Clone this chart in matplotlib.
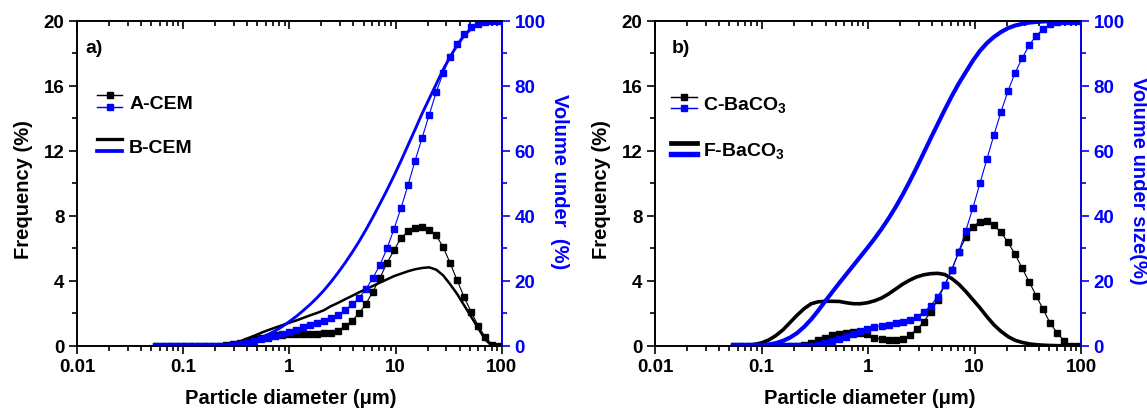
import matplotlib
matplotlib.use('Agg')
import matplotlib.pyplot as plt
from matplotlib.lines import Line2D
from matplotlib.legend_handler import HandlerBase
from matplotlib.ticker import MultipleLocator, LogLocator, NullFormatter

plt.rcParams['font.family'] = ['Liberation Sans', 'DejaVu Sans']
plt.rcParams['font.weight'] = 'bold'
plt.rcParams['axes.labelweight'] = 'bold'
plt.rcParams['mathtext.fontset'] = 'custom'
plt.rcParams['mathtext.rm'] = 'Liberation Sans:bold'
plt.rcParams['mathtext.it'] = 'Liberation Sans:bold'
plt.rcParams['mathtext.bf'] = 'Liberation Sans:bold'
plt.rcParams['mathtext.default'] = 'rm'

# particle size classes (um)
sizes = [0.0550, 0.0640, 0.0745, 0.0868, 0.1010, 0.1176, 0.1369, 0.1594, 0.1855, 0.2160,
         0.2514, 0.2927, 0.3407, 0.3966, 0.4618, 0.5376, 0.6258, 0.7285, 0.8481, 0.9872,
         1.149, 1.338, 1.557, 1.813, 2.110, 2.457, 2.860, 3.330, 3.876, 4.512,
         5.253, 6.115, 7.118, 8.286, 9.647, 11.23, 13.07, 15.22, 17.72, 20.62,
         24.01, 27.95, 32.54, 37.88, 44.10, 51.33, 59.76, 69.57, 80.99, 94.28]

# a) cement
a_freq = [0, 0, 0, 0, 0, 0, 0, 0, 0, 0,
          0.05, 0.12, 0.2, 0.3, 0.4, 0.5, 0.58, 0.65, 0.7, 0.72,
          0.73, 0.73, 0.73, 0.74, 0.77, 0.82, 0.95, 1.2, 1.55, 2.0,
          2.6, 3.35, 4.2, 5.1, 5.9, 6.65, 7.05, 7.28, 7.32, 7.15,
          6.8, 6.1, 5.1, 4.05, 3.0, 2.1, 1.25, 0.55, 0.08, 0]
a_cum = [0, 0, 0, 0, 0, 0, 0, 0, 0, 0,
         0.1, 0.3, 0.6, 1.0, 1.5, 2.0, 2.6, 3.2, 3.8, 4.4,
         5.0, 5.7, 6.4, 7.1, 7.8, 8.6, 9.6, 11.0, 12.8, 14.8,
         17.5, 21.0, 25.0, 30.0, 36.0, 42.5, 49.5, 57.0, 64.0, 71.0,
         78.0, 84.0, 89.0, 93.0, 96.0, 98.0, 99.2, 99.8, 100, 100]
b_freq = [0, 0, 0, 0, 0, 0, 0, 0, 0, 0.02,
          0.07, 0.15, 0.28, 0.45, 0.62, 0.8, 0.97, 1.12, 1.27, 1.42,
          1.56, 1.72, 1.88, 2.03, 2.2, 2.45, 2.65, 2.87, 3.08, 3.3,
          3.5, 3.7, 3.9, 4.1, 4.3, 4.45, 4.6, 4.72, 4.8, 4.84,
          4.7, 4.35, 3.8, 3.2, 2.5, 1.8, 1.1, 0.4, 0, 0]
b_cum = [0, 0, 0, 0, 0, 0, 0, 0, 0, 0.05,
         0.15, 0.35, 0.65, 1.1, 1.7, 2.5, 3.5, 4.6, 5.9, 7.4,
         9.0, 10.8, 12.7, 14.8, 17.1, 19.7, 22.5, 25.5, 28.7, 32.1,
         35.8, 39.7, 43.8, 48.0, 52.4, 57.0, 61.8, 66.6, 71.5, 76.0,
         80.5, 85.0, 89.0, 92.5, 95.5, 97.6, 99.0, 99.8, 100, 100]

# b) barium carbonate
c_freq = [0, 0, 0, 0, 0, 0, 0, 0, 0, 0,
          0.05, 0.2, 0.35, 0.52, 0.66, 0.75, 0.81, 0.84, 0.82, 0.72,
          0.52, 0.4, 0.34, 0.34, 0.45, 0.66, 1.02, 1.48, 2.1, 2.85,
          3.75, 4.7, 5.8, 6.7, 7.35, 7.65, 7.68, 7.42, 7.0, 6.37,
          5.65, 4.8, 3.95, 3.1, 2.25, 1.4, 0.8, 0.3, 0, 0]
c_cum = [0, 0, 0, 0, 0, 0, 0, 0, 0, 0,
         0, 0.1, 0.4, 0.9, 1.5, 2.2, 2.9, 3.7, 4.5, 5.2,
         5.8, 6.2, 6.6, 7.0, 7.4, 8.0, 9.0, 10.4, 12.4, 15.2,
         18.8, 23.4, 29.0, 35.5, 42.5, 50.0, 57.5, 65.0, 72.0, 78.5,
         84.0, 88.5, 92.5, 95.5, 97.5, 99.0, 99.7, 100, 100, 100]
f_freq = [0, 0.02, 0.05, 0.1, 0.2, 0.38, 0.65, 1.0, 1.45, 1.9,
          2.3, 2.6, 2.72, 2.75, 2.75, 2.74, 2.66, 2.6, 2.6, 2.66,
          2.78, 2.95, 3.2, 3.5, 3.8, 4.05, 4.25, 4.38, 4.45, 4.47,
          4.4, 4.15, 3.8, 3.35, 2.85, 2.35, 1.8, 1.3, 0.9, 0.58,
          0.35, 0.22, 0.13, 0.08, 0.05, 0.03, 0.02, 0.01, 0, 0]
f_cum = [0, 0, 0.05, 0.1, 0.2, 0.45, 0.9, 1.6, 2.6, 4.0,
         5.9, 8.2, 10.9, 13.8, 16.6, 19.4, 22.1, 24.8, 27.5, 30.2,
         33.0, 36.0, 39.2, 42.7, 46.5, 50.6, 54.9, 59.4, 63.9, 68.3,
         72.7, 76.9, 80.8, 84.3, 87.8, 90.8, 93.2, 95.1, 96.6, 97.8,
         98.6, 99.1, 99.5, 99.7, 99.85, 99.95, 100, 100, 100, 100]

xticks = [0.01, 0.1, 1, 10, 100]
xtick_labels = ['0.01', '0.1', '1', '10', '100']
freq_ticks = [0, 4, 8, 12, 16, 20]
cum_ticks = [0, 20, 40, 60, 80, 100]

BLUE = '#0000ff'


class StackedHandler(HandlerBase):
    # draws the two handles of a tuple one above the other
    def create_artists(self, legend, orig_handle, xdescent, ydescent,
                       width, height, fontsize, trans):
        gap = 0.85 * height
        ys = [height / 2 - ydescent + gap / 2, height / 2 - ydescent - gap / 2]
        out = []
        for h, y in zip(orig_handle, ys):
            x0 = -xdescent
            ln = Line2D([x0, x0 + width / 2, x0 + width], [y, y, y],
                        color=h.get_color(), lw=h.get_linewidth() * 1.3,
                        marker=h.get_marker(), ms=h.get_markersize() * 0.8,
                        markevery=[1], transform=trans)
            out.append(ln)
        return out


def make_panel(rect, freq1, cum1, freq2, cum2, names, tag, tag_x, right_label,
               legend_x, thick):
    ax = fig.add_axes(rect)
    ax2 = ax.twinx()

    l1, = ax.plot(sizes, freq1, color='black', marker='s', ms=5, lw=0.8)
    l2, = ax.plot(sizes, freq2, color='black', lw=thick)
    l3, = ax2.plot(sizes, cum1, color=BLUE, marker='s', ms=5, lw=0.8)
    l4, = ax2.plot(sizes, cum2, color=BLUE, lw=thick * 1.15)

    ax.set_xscale('log')
    ax.set_xlim(0.01, 100)
    ax.set_ylim(0, 20)
    ax2.set_ylim(0, 100)
    ax.set_xticks(xticks)
    ax.set_xticklabels(xtick_labels)
    ax.xaxis.set_minor_locator(LogLocator(base=10, subs=range(2, 10), numticks=20))
    ax.xaxis.set_minor_formatter(NullFormatter())
    ax.set_yticks(freq_ticks)
    ax.yaxis.set_minor_locator(MultipleLocator(2))
    ax2.set_yticks(cum_ticks)
    ax2.yaxis.set_minor_locator(MultipleLocator(10))

    ax.tick_params(which='both', direction='out', width=1.2, labelsize=13.5,
                   top=False, right=False, pad=3)
    ax.tick_params(which='major', length=6)
    ax.tick_params(which='minor', length=3.5)
    ax2.tick_params(axis='y', which='both', direction='out', width=1.2,
                    colors=BLUE, labelsize=13.5, pad=3)
    ax2.tick_params(axis='y', which='major', length=6)
    ax2.tick_params(axis='y', which='minor', length=3.5)
    # inward ticks along the top frame
    ax2.xaxis.set_visible(True)
    ax2.tick_params(axis='x', which='both', direction='in', top=True, bottom=False,
                    labeltop=False, labelbottom=False, width=1.2)
    ax2.tick_params(axis='x', which='major', length=6)
    ax2.tick_params(axis='x', which='minor', length=3.5)

    for a in (ax, ax2):
        for s in a.spines.values():
            s.set_linewidth(1.2)
    ax2.spines['right'].set_color(BLUE)

    ax.set_xlabel('Particle diameter (\u03bcm)', fontsize=14.5)
    ax.xaxis.set_label_coords(0.504, -0.158)
    ax.xaxis.label.set(va='center', ha='center')
    ax.set_ylabel('Frequency (%)', fontsize=14.5)
    ax.yaxis.set_label_coords(-0.125, 0.483)
    ax.yaxis.label.set(va='center', ha='center')
    ax2.set_ylabel(right_label, fontsize=14.5, color=BLUE, rotation=270)
    ax2.yaxis.set_label_coords(1.136, 0.51)
    ax2.yaxis.label.set(va='center', ha='center')

    ax.text(tag_x, 0.918, tag, transform=ax.transAxes, fontsize=14,
            ha='left', va='center')
    ax2.legend(handles=[(l1, l3), (l2, l4)], labels=names,
               handler_map={tuple: StackedHandler()}, loc='upper left',
               bbox_to_anchor=(legend_x, 0.775), frameon=False, fontsize=14,
               borderpad=0, borderaxespad=0, handlelength=1.3, handleheight=0.7,
               handletextpad=0.35, labelspacing=1.35)
    return ax, ax2


fig = plt.figure(figsize=(11.47, 4.10), dpi=100)
make_panel([0.0671, 0.1537, 0.3705, 0.7927], a_freq, a_cum, b_freq, b_cum,
           ['A-CEM', 'B-CEM'], 'a)', 0.02, 'Volume under  (%)', 0.047, 1.8)
make_panel([0.5711, 0.1537, 0.3714, 0.7927], c_freq, c_cum, f_freq, f_cum,
           ['C-BaCO$_3$', 'F-BaCO$_3$'], 'b)', 0.038, 'Volume under size(%)',
           0.038, 2.6)

fig.savefig('out.png', dpi=100)
